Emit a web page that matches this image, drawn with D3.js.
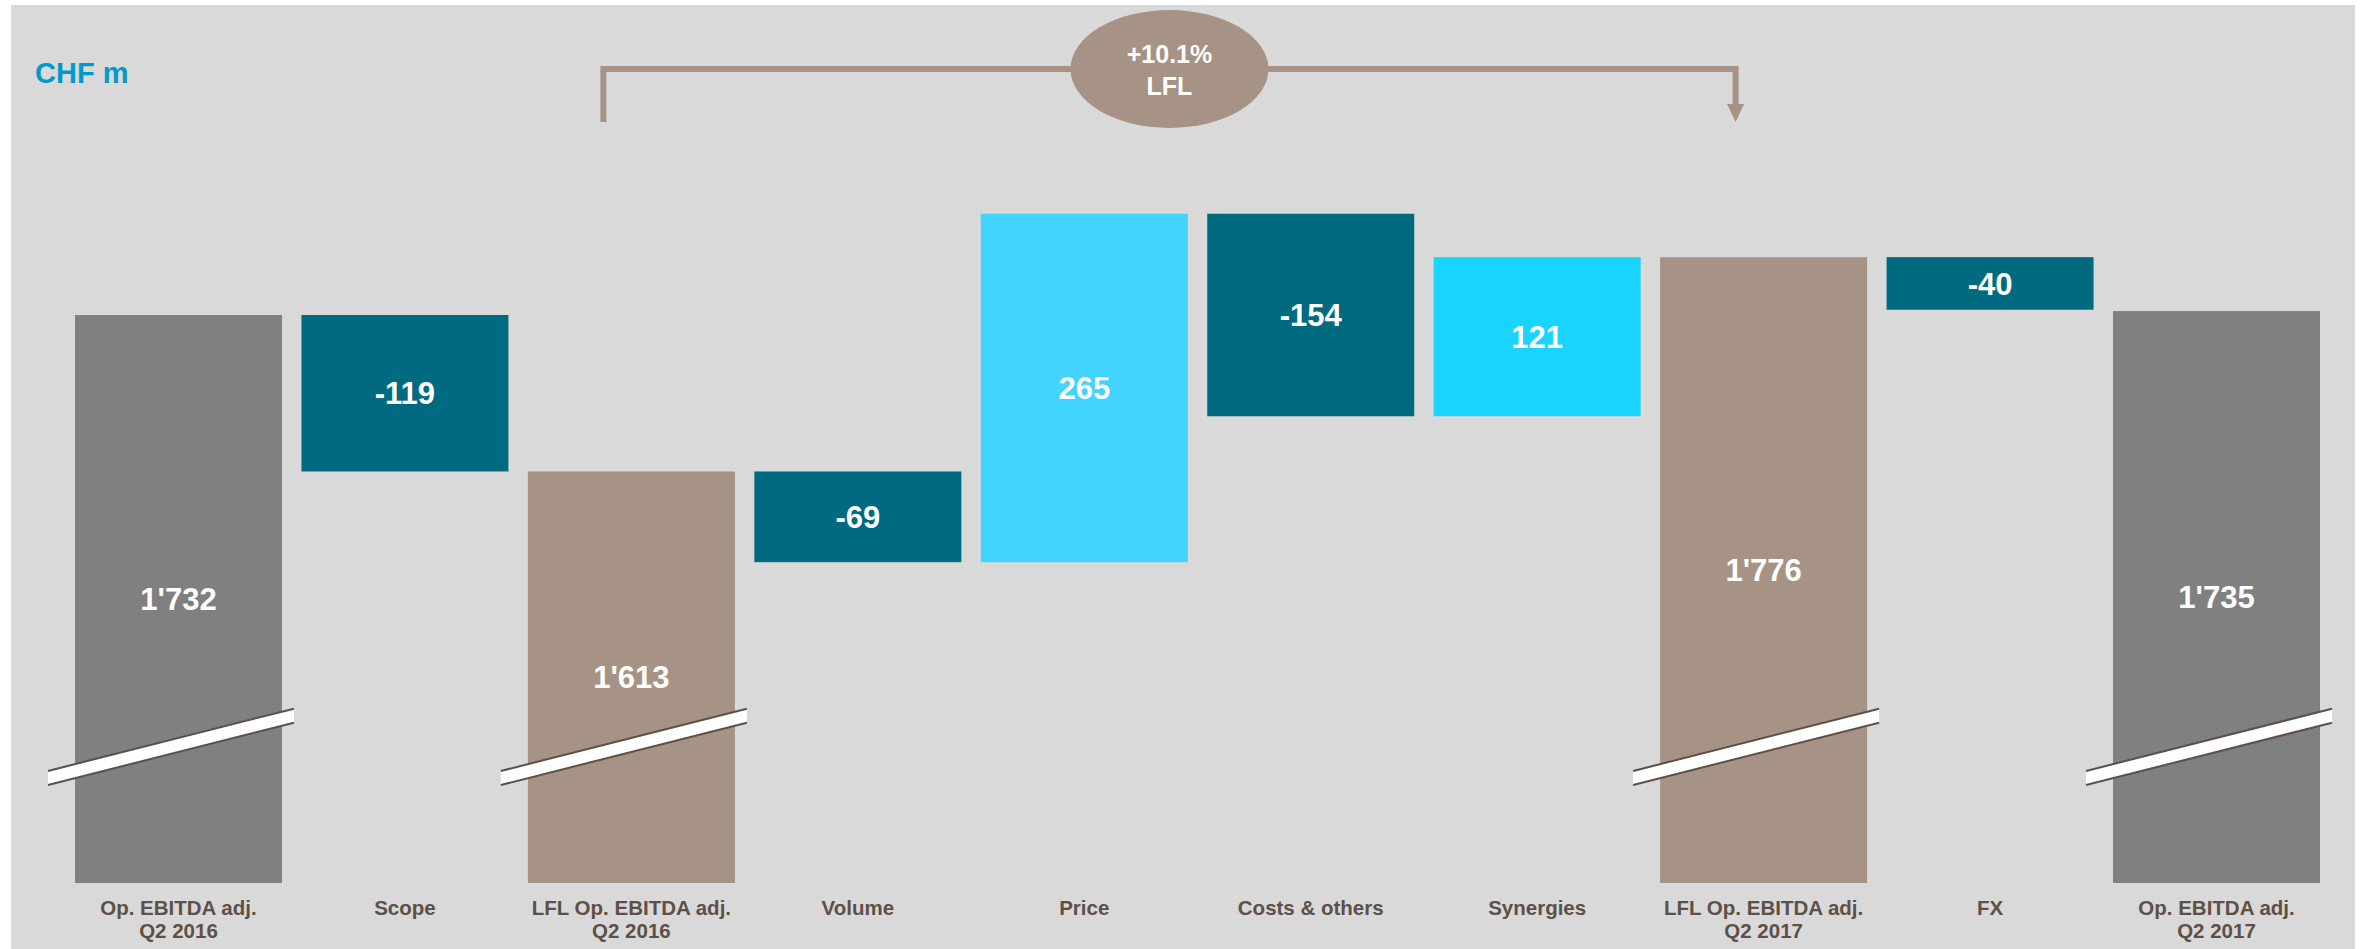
<!DOCTYPE html>
<html>
<head>
<meta charset="utf-8">
<script src="https://cdn.jsdelivr.net/npm/d3@7"></script>
<style>
  html, body { margin: 0; padding: 0; background: #ffffff; }
  svg { display: block; }
  text { font-family: "Liberation Sans", Arial, sans-serif; font-weight: bold; }
</style>
</head>
<body>
<svg id="chart" width="2362" height="949"></svg>
<script>
// Operating EBITDA bridge, CHF m
const categories = [
  ["Op. EBITDA adj.", "Q2 2016"],
  ["Scope"],
  ["LFL Op. EBITDA adj.", "Q2 2016"],
  ["Volume"],
  ["Price"],
  ["Costs & others"],
  ["Synergies"],
  ["LFL Op. EBITDA adj.", "Q2 2017"],
  ["FX"],
  ["Op. EBITDA adj.", "Q2 2017"]
];
const values = [1732, -119, 1613, -69, 265, -154, 121, 1776, -40, 1735];
const kinds  = ["total", "delta", "lfl", "delta", "delta", "delta", "delta", "lfl", "delta", "total"];
const brokenBars = [0, 2, 7, 9];
const lflGrowth = ["+10.1%", "LFL"];
const unitLabel = "CHF m";

const colors = {
  panel: "#d9d9d9",
  total: "#808080",
  lfl: "#a69386",
  negative: "#006a80",
  price: "#42d3fe",
  synergy: "#19d4ff",
  label: "#5e5048",
  unit: "#0099cc",
  breakEdge: "#5e5048"
};

const svg = d3.select("#chart");
const W = 2362, H = 949;

// background panel
svg.append("rect").attr("x", 11).attr("y", 5).attr("width", 2344).attr("height", H - 5)
  .attr("fill", colors.panel);

// scales: the value axis is broken, so it starts above zero
const x = d3.scaleBand()
  .domain(d3.range(categories.length))
  .range([75, 2320])
  .paddingInner(0.086)
  .paddingOuter(0);

const y = d3.scaleLinear()
  .domain([1300, 1800])
  .range([883, 883 - 500 * 1.3148]);

// waterfall segments
let running = 0;
const segs = values.map((v, i) => {
  let lo, hi;
  if (kinds[i] === "delta") {
    const start = running, end = running + v;
    lo = Math.min(start, end); hi = Math.max(start, end);
    running = end;
  } else {
    lo = y.domain()[0]; hi = v;
    running = v;
  }
  let fill;
  if (kinds[i] === "total") fill = colors.total;
  else if (kinds[i] === "lfl") fill = colors.lfl;
  else if (v < 0) fill = colors.negative;
  else fill = (categories[i][0] === "Price") ? colors.price : colors.synergy;
  return { i, v, lo, hi, fill, kind: kinds[i] };
});

const fmtLocale = d3.formatLocale({ decimal: ".", thousands: "'", grouping: [3], currency: ["", ""], minus: "-" });
const fmt = fmtLocale.format(",");

svg.append("g").selectAll("rect").data(segs).join("rect")
  .attr("x", d => x(d.i))
  .attr("width", x.bandwidth())
  .attr("y", d => y(d.hi))
  .attr("height", d => y(d.lo) - y(d.hi))
  .attr("fill", d => d.fill);

// axis-break bands across the total bars
const breakValue = 1405;
const bandG = svg.append("g");
brokenBars.forEach(i => {
  const x0 = x(i) - 27, x1 = x(i) + x.bandwidth() + 12;
  const cx = x(i) + x.bandwidth() / 2;
  const cy = y(breakValue);
  const slope = -0.253;
  const yAt = xx => cy + (xx - cx) * slope;
  const half = 7;
  bandG.append("polygon")
    .attr("points", [[x0, yAt(x0) - half], [x1, yAt(x1) - half], [x1, yAt(x1) + half], [x0, yAt(x0) + half]].map(p => p.join(",")).join(" "))
    .attr("fill", "#ffffff");
  [-half, half].forEach(off => {
    bandG.append("line")
      .attr("x1", x0).attr("y1", yAt(x0) + off)
      .attr("x2", x1).attr("y2", yAt(x1) + off)
      .attr("stroke", colors.breakEdge).attr("stroke-width", 2);
  });
});

// value labels in the middle of each bar
svg.append("g").selectAll("text").data(segs).join("text")
  .attr("x", d => x(d.i) + x.bandwidth() / 2)
  .attr("y", d => (y(d.lo) + y(d.hi)) / 2)
  .attr("dy", "0.36em")
  .attr("text-anchor", "middle")
  .attr("font-size", 31)
  .attr("fill", "#ffffff")
  .text(d => fmt(d.v));

// category labels
const catG = svg.append("g");
categories.forEach((lines, i) => {
  const t = catG.append("text")
    .attr("x", x(i) + x.bandwidth() / 2)
    .attr("y", 915)
    .attr("text-anchor", "middle")
    .attr("font-size", 20.5)
    .attr("fill", colors.label);
  lines.forEach((ln, k) => {
    t.append("tspan").attr("x", x(i) + x.bandwidth() / 2).attr("dy", k === 0 ? 0 : 23).text(ln);
  });
});

// unit label
svg.append("text").attr("x", 35).attr("y", 83)
  .attr("font-size", 29).attr("fill", colors.unit).text(unitLabel);

// LFL growth bracket from LFL 2016 to LFL 2017
const bx0 = x(2) + x.bandwidth() / 2 - 28;
const bx1 = x(7) + x.bandwidth() / 2 - 28;
const by = 69;
svg.append("path")
  .attr("d", `M${bx0},122 V${by} H${bx1} V106`)
  .attr("fill", "none").attr("stroke", colors.lfl).attr("stroke-width", 6);
svg.append("polygon")
  .attr("points", `${bx1 - 8.5},104 ${bx1 + 8.5},104 ${bx1},122`)
  .attr("fill", colors.lfl);

const ex = (bx0 + bx1) / 2;
svg.append("ellipse").attr("cx", ex).attr("cy", by).attr("rx", 99).attr("ry", 59)
  .attr("fill", colors.lfl);
svg.append("text").attr("x", ex).attr("y", 63).attr("text-anchor", "middle")
  .attr("font-size", 25).attr("fill", "#ffffff").text(lflGrowth[0]);
svg.append("text").attr("x", ex).attr("y", 95).attr("text-anchor", "middle")
  .attr("font-size", 25).attr("fill", "#ffffff").text(lflGrowth[1]);
</script>
</body>
</html>
